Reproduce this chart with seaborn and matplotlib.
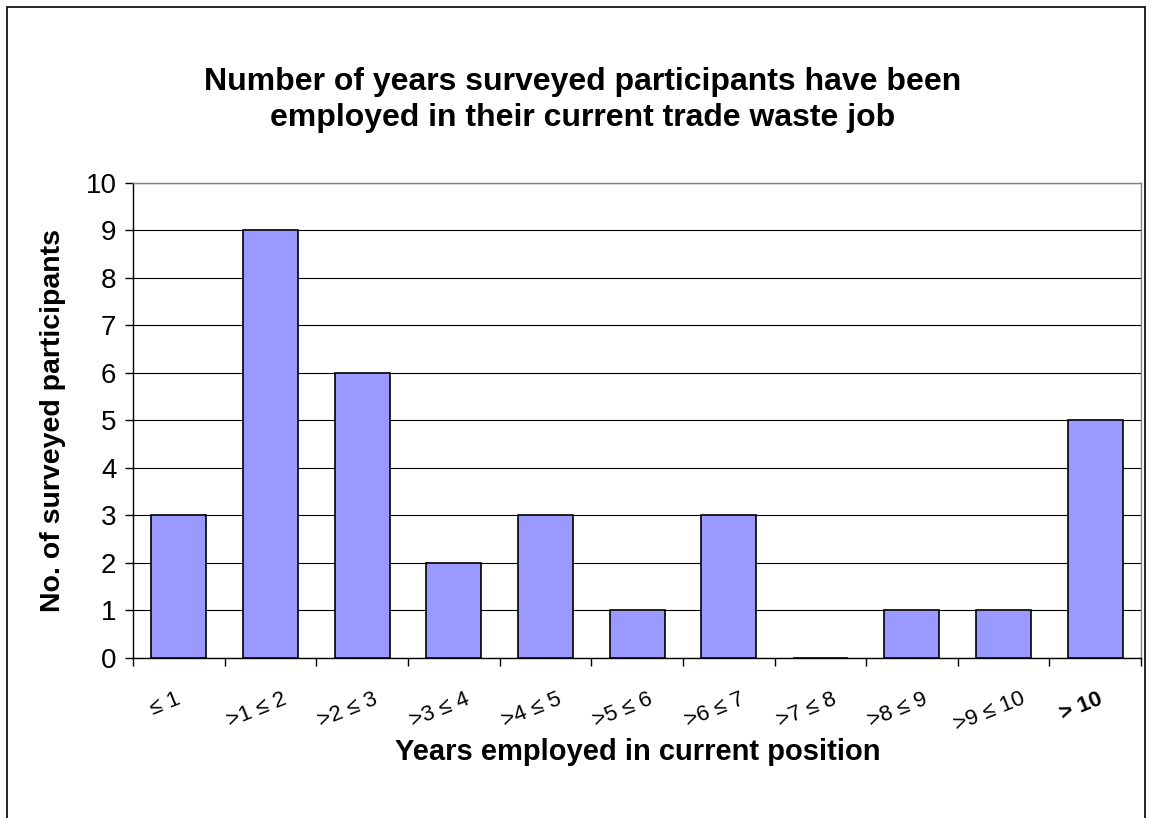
import matplotlib
matplotlib.use("Agg")
import matplotlib.pyplot as plt
import matplotlib.transforms as mtransforms
import seaborn as sns
import pandas as pd
from matplotlib.patches import Rectangle

# Data
categories = ["≤ 1", ">1 ≤ 2", ">2 ≤ 3", ">3 ≤ 4", ">4 ≤ 5", ">5 ≤ 6",
              ">6 ≤ 7", ">7 ≤ 8", ">8 ≤ 9", ">9 ≤ 10", "> 10"]
counts = [3, 9, 6, 2, 3, 1, 3, 0, 1, 1, 5]
y_ticks = list(range(0, 11))

df = pd.DataFrame({"years": categories, "participants": counts})

sns.set_style("white")
plt.rcParams['font.family'] = ['Liberation Sans', 'DejaVu Sans']
plt.rcParams['text.color'] = 'black'
plt.rcParams['axes.labelcolor'] = 'black'
plt.rcParams['xtick.color'] = 'black'
plt.rcParams['ytick.color'] = 'black'

fig = plt.figure(figsize=(11.52, 8.18), dpi=100)
ax = fig.add_axes([0.1155, 0.1956, 0.875, 0.5807])

sns.barplot(data=df, x="years", y="participants", color="#9999FF",
            saturation=1, width=0.6, edgecolor="black", linewidth=1.2, ax=ax, zorder=3)

ax.set_ylim(0, 10)
ax.set_xlim(-0.5, len(categories) - 0.5)
ax.set_yticks(y_ticks)
ax.yaxis.grid(True, color="black", linewidth=0.8, zorder=0)
ax.tick_params(axis="y", labelsize=20, length=6, width=1, direction="out", left=True, pad=6)

# category boundary ticks on x
ax.set_xticks([i - 0.5 for i in range(len(categories) + 1)], minor=True)
ax.tick_params(axis="x", which="minor", length=6, width=1, bottom=True)
ax.tick_params(axis="x", which="major", length=0, labelsize=16, pad=22)
ax.set_xticks(range(len(categories)))
ax.set_xticklabels(categories, rotation=22, ha="center")
shift = mtransforms.ScaledTranslation(-14 / 100, 0, fig.dpi_scale_trans)
for lbl in ax.get_xticklabels():
    lbl.set_transform(lbl.get_transform() + shift)
ax.get_xticklabels()[-1].set_fontweight("bold")

for side in ["top", "right"]:
    ax.spines[side].set_color("#808080")
for side in ["left", "bottom"]:
    ax.spines[side].set_color("black")
for s in ax.spines.values():
    s.set_linewidth(1)

ax.set_xlabel("Years employed in current position", fontsize=21, fontweight="bold", va="center")
ax.xaxis.set_label_coords(0.501, -0.198)
ax.set_ylabel("No. of surveyed participants", fontsize=20.5, fontweight="bold", labelpad=14)

fig.text(0.5055, 0.8778, "Number of years surveyed participants have been\nemployed in their current trade waste job",
         ha="center", va="center", fontsize=23, fontweight="bold", linespacing=1.27)

# chart-area frame
fig.patches.append(Rectangle((7 / 1152, -0.05), 1138 / 1152, 1.05 - 7 / 818,
                             transform=fig.transFigure, fill=False,
                             edgecolor="black", linewidth=1.2))

fig.savefig("out.png", dpi=100)
